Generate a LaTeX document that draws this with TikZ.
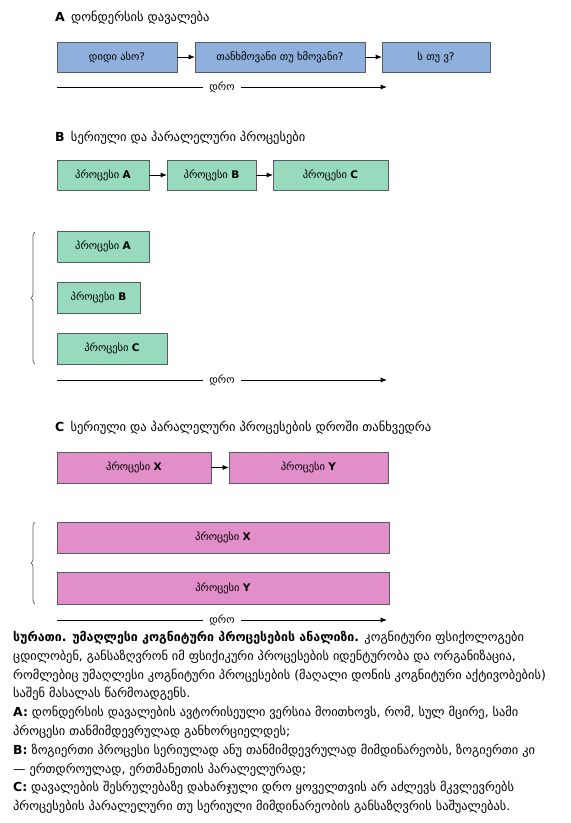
\documentclass[tikz,border=0pt]{standalone}
\usepackage{fontspec}
\setmainfont{DejaVu Sans}
\usepackage{xcolor}
\usetikzlibrary{arrows.meta,positioning,decorations.pathreplacing}
\definecolor{taskblue}{RGB}{143,176,220}
\definecolor{procgreen}{RGB}{152,218,190}
\definecolor{procpink}{RGB}{226,142,200}
\definecolor{edgegray}{RGB}{85,92,100}
\newcommand{\procword}{პროცესი}

\begin{document}
\begin{tikzpicture}[
  x=1pt, y=-1pt,
  every node/.style={font=\fontsize{10.5}{12}\selectfont},
  box/.style={draw=edgegray, line width=0.8pt, minimum height=30pt, inner sep=0pt, outer sep=0pt, align=center},
  taskbox/.style={box, fill=taskblue},
  greenbox/.style={box, fill=procgreen},
  pinkbox/.style={box, fill=procpink},
  title/.style={anchor=west, inner sep=0pt, font=\fontsize{12.5}{14}\selectfont},
  arrow/.style={-{Latex[length=2.2mm,width=1.8mm]}, line width=1pt},
  timearrow/.style={-{Latex[length=2.2mm,width=1.8mm]}, line width=1pt},
  timelabel/.style={fill=white, inner xsep=6pt, font=\fontsize{10.5}{12}\selectfont},
  brace/.style={decorate, decoration={brace, amplitude=4pt}, draw=edgegray, line width=0.7pt}
]
\useasboundingbox (0,0) rectangle (571,823);

% A
\node[title] (titleA) at (55,18) {\textbf{A}\enspace დონდერსის დავალება};
\node[taskbox, anchor=north west, minimum width=120pt] (big) at (57,42) {დიდი ასო?};
\node[taskbox, right=18pt of big, minimum width=170pt] (cons) {თანხმოვანი თუ ხმოვანი?};
\node[taskbox, right=17pt of cons, minimum width=108pt] (sv) {ს თუ ვ?};
\draw[arrow] (big) -- (cons);
\draw[arrow] (cons) -- (sv);
\coordinate (tA0) at (57,87);
\coordinate (tA1) at (387,87);
\draw[timearrow] (tA0) -- node[timelabel] {დრო} (tA1);

% B
\node[title] (titleB) at (55,138) {\textbf{B}\enspace სერიული და პარალელური პროცესები};
\node[greenbox, anchor=north west, minimum width=92pt] (sA) at (57,160) {\procword\ \textbf{A}};
\node[greenbox, right=18pt of sA, minimum width=89pt] (sB) {\procword\ \textbf{B}};
\node[greenbox, right=17pt of sB, minimum width=115pt] (sC) {\procword\ \textbf{C}};
\draw[arrow] (sA) -- (sB);
\draw[arrow] (sB) -- (sC);
\node[greenbox, anchor=north west, minimum width=92pt, minimum height=31pt] (pA) at (57,231) {\procword\ \textbf{A}};
\node[greenbox, anchor=north west, minimum width=83pt, minimum height=31pt] (pB) at (57,282) {\procword\ \textbf{B}};
\node[greenbox, anchor=north west, minimum width=110pt, minimum height=31pt] (pC) at (57,333) {\procword\ \textbf{C}};
\coordinate (bB0) at (35,364);
\coordinate (bB1) at (35,232);
\draw[brace] (bB0) -- (bB1);
\coordinate (tB0) at (57,380);
\coordinate (tB1) at (387,380);
\draw[timearrow] (tB0) -- node[timelabel] {დრო} (tB1);

% C
\node[title] (titleC) at (55,428) {\textbf{C}\enspace სერიული და პარალელური პროცესების დროში თანხვედრა};
\node[pinkbox, anchor=north west, minimum width=154pt, minimum height=31pt] (sX) at (57,452) {\procword\ \textbf{X}};
\node[pinkbox, right=18pt of sX, minimum width=159pt, minimum height=31pt] (sY) {\procword\ \textbf{Y}};
\draw[arrow] (sX) -- (sY);
\node[pinkbox, anchor=north west, minimum width=332pt, minimum height=31pt] (pX) at (57,522) {\procword\ \textbf{X}};
\node[pinkbox, anchor=north west, minimum width=332pt, minimum height=32pt] (pY) at (57,572) {\procword\ \textbf{Y}};
\coordinate (bC0) at (35,604);
\coordinate (bC1) at (35,522);
\draw[brace] (bC0) -- (bC1);
\coordinate (tC0) at (57,620);
\coordinate (tC1) at (387,620);
\draw[timearrow] (tC0) -- node[timelabel] {დრო} (tC1);

% caption
\node[anchor=north west, align=left, inner sep=0pt, font=\fontsize{12.4}{18.8}\selectfont] (caption) at (13,631) {%
\textbf{სურათი. უმაღლესი კოგნიტური პროცესების ანალიზი.} კოგნიტური ფსიქოლოგები\\
ცდილობენ, განსაზღვრონ იმ ფსიქიკური პროცესების იდენტურობა და ორგანიზაცია,\\
რომლებიც უმაღლესი კოგნიტური პროცესების (მაღალი დონის კოგნიტური აქტივობების)\\
საშენ მასალას წარმოადგენს.\\
\textbf{A:} დონდერსის დავალების ავტორისეული ვერსია მოითხოვს, რომ, სულ მცირე, სამი\\
პროცესი თანმიმდევრულად განხორციელდეს;\\
\textbf{B:} ზოგიერთი პროცესი სერიულად ანუ თანმიმდევრულად მიმდინარეობს, ზოგიერთი კი\\
— ერთდროულად, ერთმანეთის პარალელურად;\\
\textbf{C:} დავალების შესრულებაზე დახარჯული დრო ყოველთვის არ აძლევს მკვლევრებს\\
პროცესების პარალელური თუ სერიული მიმდინარეობის განსაზღვრის საშუალებას.};
\end{tikzpicture}
\end{document}
